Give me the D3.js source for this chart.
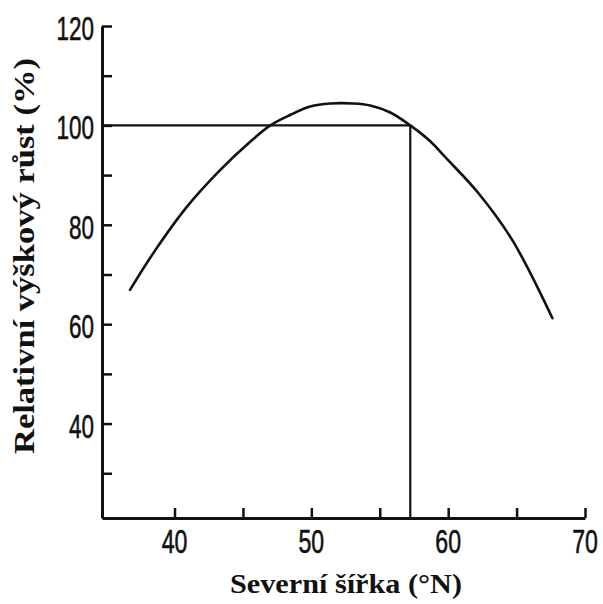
<!DOCTYPE html>
<html><head><meta charset="utf-8">
<script src="https://cdn.jsdelivr.net/npm/d3@7"></script>
<style>body{margin:0;background:#fff}svg{display:block}</style>
</head><body>
<script>
// Data
const latitude = [36.75, 38.45, 40.9, 43.33, 45.53, 47.0, 48.45, 49.92, 51.38, 53.06, 54.3, 55.77, 57.23, 58.69, 59.79, 62.2, 64.69, 67.62];
const growth   = [66.9, 74.3, 83.6, 91.0, 96.7, 100.0, 102.1, 103.8, 104.4, 104.4, 104.0, 102.6, 100.0, 96.8, 93.6, 86.4, 76.9, 61.2];
const xTicks = [40, 45, 50, 55, 60, 65, 70];
const xLabels = [40, 50, 60, 70];
const yTicks = [30, 40, 50, 60, 70, 80, 90, 100, 110, 120];
const yLabels = [40, 60, 80, 100, 120];
const refLat = [57.23];
const refGrowth = [100];

const W = 603, H = 604;
const svg = d3.select("body").append("svg").attr("width", W).attr("height", H);
const x = d3.scaleLinear().domain([34.7, 70]).range([102, 585]);
const y = d3.scaleLinear().domain([21, 120]).range([518, 26]);

// axes
const gx = svg.append("g").attr("transform", `translate(0,${y(21)})`)
  .call(d3.axisBottom(x).tickValues(xTicks).tickSize(-10).tickSizeOuter(0).tickFormat(""));
const gy = svg.append("g").attr("transform", `translate(${x(34.7)},0)`)
  .call(d3.axisLeft(y).tickValues(yTicks).tickSize(-10).tickSizeOuter(0).tickFormat(""));
[gx, gy].forEach(g => {
  g.select(".domain").attr("stroke", "#111").attr("stroke-width", 3);
  g.selectAll(".tick line").attr("stroke", "#111").attr("stroke-width", 2.5);
});

// tick labels (condensed)
const labelFont = "'Liberation Sans', Arial, sans-serif";
svg.append("g").selectAll("text").data(xLabels).join("text")
  .attr("transform", d => `translate(${x(d)},553) scale(0.68,1)`)
  .attr("text-anchor", "middle")
  .attr("font-family", labelFont)
  .attr("font-size", 34).attr("fill", "#111")
  .attr("stroke", "#111").attr("stroke-width", 0.6)
  .text(d => d);
svg.append("g").selectAll("text").data(yLabels).join("text")
  .attr("transform", d => `translate(94,${y(d) + 14}) scale(0.66,1)`)
  .attr("text-anchor", "end")
  .attr("font-family", labelFont)
  .attr("font-size", 34).attr("fill", "#111")
  .attr("stroke", "#111").attr("stroke-width", 0.6)
  .text(d => d);

// reference lines
svg.append("line")
  .attr("x1", x(34.7)).attr("x2", x(refLat[0]))
  .attr("y1", y(refGrowth[0])).attr("y2", y(refGrowth[0]))
  .attr("stroke", "#111").attr("stroke-width", 2.2);
svg.append("line")
  .attr("x1", x(refLat[0])).attr("x2", x(refLat[0]))
  .attr("y1", y(refGrowth[0])).attr("y2", y(21))
  .attr("stroke", "#111").attr("stroke-width", 2.2);

// curve
const pts = latitude.map((d, i) => [d, growth[i]]);
svg.append("path").datum(pts)
  .attr("d", d3.line().x(d => x(d[0])).y(d => y(d[1])).curve(d3.curveCatmullRom))
  .attr("fill", "none").attr("stroke", "#111").attr("stroke-width", 2.6)
  .attr("stroke-linecap", "round");

// axis titles
const titleFont = "'Liberation Serif', 'Times New Roman', serif";
svg.append("text")
  .attr("x", 346).attr("y", 593).attr("text-anchor", "middle")
  .attr("font-family", titleFont)
  .attr("font-weight", "bold").attr("font-size", 28).attr("fill", "#111")
  .attr("textLength", 232).attr("lengthAdjust", "spacingAndGlyphs")
  .text("Severní šířka (°N)");
svg.append("text")
  .attr("transform", "translate(34,256) rotate(-90)")
  .attr("text-anchor", "middle")
  .attr("font-family", titleFont)
  .attr("font-weight", "bold").attr("font-size", 29).attr("fill", "#111")
  .attr("textLength", 396).attr("lengthAdjust", "spacingAndGlyphs")
  .text("Relativní výškový růst (%)");
</script>
</body></html>
